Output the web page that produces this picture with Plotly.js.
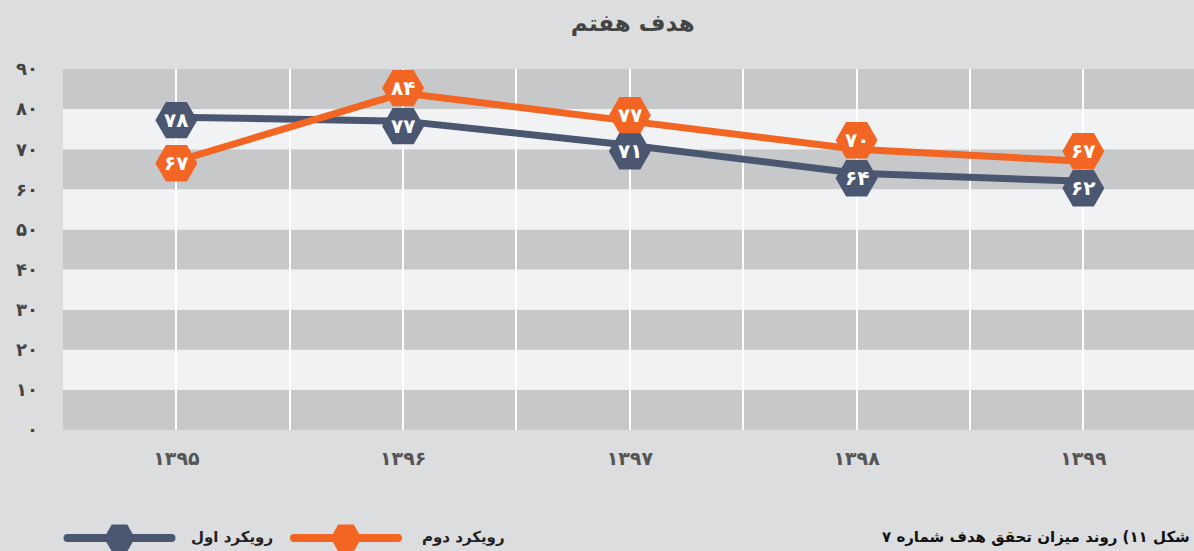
<!DOCTYPE html>
<html>
<head>
<meta charset="utf-8">
<script src="https://cdn.plot.ly/plotly-3.0.1.min.js"></script>
<style>
html,body{margin:0;padding:0;background:#dcdddf;}
#chart{width:1194px;height:551px;}
</style>
</head>
<body>
<div id="chart"></div>
<script>
// ---- data ----
var years = ['۱۳۹۵', '۱۳۹۶', '۱۳۹۷', '۱۳۹۸', '۱۳۹۹'];
var yearIndex = [0, 1, 2, 3, 4];
var approach1Name = 'رویکرد اول';
var approach2Name = 'رویکرد دوم';
var approach1 = [78, 77, 71, 64, 62];
var approach2 = [67, 84, 77, 70, 67];
var approach1Labels = ['۷۸', '۷۷', '۷۱', '۶۴', '۶۲'];
var approach2Labels = ['۶۷', '۸۴', '۷۷', '۷۰', '۶۷'];
var yTickVals = [0, 10, 20, 30, 40, 50, 60, 70, 80, 90];
var yTickText = ['۰', '۱۰', '۲۰', '۳۰', '۴۰', '۵۰', '۶۰', '۷۰', '۸۰', '۹۰'];
var chartTitle = 'هدف هفتم';
var caption = 'شکل ۱۱) روند میزان تحقق هدف شماره ۷';

// ---- styles ----
var FONT = 'DejaVu Sans, sans-serif';
var DARK = '#4b5670';
var ORANGE = '#f26522';
var BAND_DARK = '#c7c8ca';
var BAND_LIGHT = '#f1f2f4';
// label badge displacement in pixels (positive = down), to keep badges apart
var labelShift1 = [3, 5, 6, 5, 7];
var labelShift2 = [2, -5, -6, -9, -10];

function lineTrace(name, y, color) {
  return {
    type: 'scatter', mode: 'lines', name: name,
    x: yearIndex, y: y,
    line: {color: color, width: 7},
    hoverinfo: 'skip', showlegend: false
  };
}

var traces = [
  lineTrace(approach1Name, approach1, DARK),
  lineTrace(approach2Name, approach2, ORANGE)
];

function hexPath(r, dy) {
  var h = r * Math.sqrt(3) / 2, hr = r / 2;
  var pts = [[-r, 0], [-hr, h], [hr, h], [r, 0], [hr, -h], [-hr, -h]];
  return 'M' + pts.map(function (p) { return p[0].toFixed(2) + ',' + (p[1] - dy).toFixed(2); }).join(' L') + ' Z';
}

var shapes = [];
// background bands (alternating)
for (var i = 0; i < yTickVals.length - 1; i++) {
  shapes.push({
    type: 'rect', layer: 'below', xref: 'paper', yref: 'y',
    x0: 0, x1: 1, y0: yTickVals[i], y1: yTickVals[i + 1],
    fillcolor: (i % 2 === 0) ? BAND_DARK : BAND_LIGHT, line: {width: 0}
  });
}

var annotations = [];
// value badges anchored at data points
function addBadges(vals, labels, shifts, color) {
  for (var k = 0; k < vals.length; k++) {
    shapes.push({
      type: 'path', layer: 'above', xref: 'x', yref: 'y',
      xsizemode: 'pixel', ysizemode: 'pixel',
      xanchor: yearIndex[k], yanchor: vals[k],
      path: hexPath(21, shifts[k]),
      fillcolor: color, line: {width: 0}
    });
    annotations.push({
      xref: 'x', yref: 'y', x: yearIndex[k], y: vals[k], yshift: -shifts[k],
      text: labels[k], showarrow: false, xanchor: 'center', yanchor: 'middle',
      font: {family: FONT, size: 20, color: '#ffffff', weight: 'bold'}
    });
  }
}
addBadges(approach1, approach1Labels, labelShift1, DARK);
addBadges(approach2, approach2Labels, labelShift2, ORANGE);

// legend decoration (pixel-sized shapes anchored in paper coords)
var plotLeft = 63, plotW = 1131, plotBottom = 430, plotH = 361;
function px2x(px) { return (px - plotLeft) / plotW; }
function py2y(py) { return (plotBottom - py) / plotH; }
function legendItem(cx, cy, color) {
  var half = 56, t = 4;
  shapes.push({
    type: 'path', xref: 'paper', yref: 'paper',
    xsizemode: 'pixel', ysizemode: 'pixel',
    xanchor: px2x(cx), yanchor: py2y(cy),
    path: 'M' + (-half + t) + ',' + (-t) + ' H' + (half - t) +
          ' Q' + half + ',' + (-t) + ' ' + half + ',0 Q' + half + ',' + t + ' ' + (half - t) + ',' + t +
          ' H' + (-half + t) + ' Q' + (-half) + ',' + t + ' ' + (-half) + ',0 Q' + (-half) + ',' + (-t) + ' ' + (-half + t) + ',' + (-t) + ' Z',
    fillcolor: color, line: {width: 0}
  });
  shapes.push({
    type: 'path', xref: 'paper', yref: 'paper',
    xsizemode: 'pixel', ysizemode: 'pixel',
    xanchor: px2x(cx), yanchor: py2y(cy),
    path: hexPath(15.5, 0),
    fillcolor: color, line: {width: 0}
  });
}
legendItem(119.5, 538, DARK);
legendItem(346, 538, ORANGE);

annotations.push(
  {xref: 'paper', yref: 'paper', x: px2x(232), y: py2y(537), text: approach1Name,
   showarrow: false, xanchor: 'center', yanchor: 'middle',
   font: {family: FONT, size: 15, color: '#222222', weight: 'bold'}},
  {xref: 'paper', yref: 'paper', x: px2x(463), y: py2y(537), text: approach2Name,
   showarrow: false, xanchor: 'center', yanchor: 'middle',
   font: {family: FONT, size: 15, color: '#222222', weight: 'bold'}},
  {xref: 'paper', yref: 'paper', x: px2x(1192), y: py2y(537), text: caption,
   showarrow: false, xanchor: 'right', yanchor: 'middle',
   font: {family: FONT, size: 15, color: '#111111', weight: 'bold'}}
);

var layout = {
  width: 1194, height: 551,
  paper_bgcolor: '#dcdddf',
  plot_bgcolor: BAND_LIGHT,
  margin: {l: 63, r: 0, t: 69, b: 121, pad: 0},
  showlegend: false,
  title: {text: chartTitle, x: 0.53, xanchor: 'center', y: 1 - 23 / 551, yanchor: 'middle', yref: 'container',
          font: {family: FONT, size: 23, color: '#444444', weight: 'bold'}},
  xaxis: {
    range: [-0.5, 4.488], tickvals: yearIndex, ticktext: years,
    showgrid: true, gridcolor: '#ffffff', gridwidth: 2,
    minor: {tick0: 0.5, dtick: 1, showgrid: true, gridcolor: '#ffffff', gridwidth: 2},
    zeroline: false, showline: false, ticks: '',
    ticklabelstandoff: 15,
    tickfont: {family: FONT, size: 19, color: '#555555', weight: 'bold'},
    fixedrange: true
  },
  yaxis: {
    range: [0, 90], tickvals: yTickVals, ticktext: yTickText,
    showgrid: false, zeroline: false, showline: false, ticks: '',
    ticklabelstandoff: 24,
    tickfont: {family: FONT, size: 18, color: '#444444', weight: 'bold'},
    fixedrange: true
  },
  shapes: shapes,
  annotations: annotations
};

Plotly.newPlot('chart', traces, layout, {displayModeBar: false, staticPlot: true});
</script>
</body>
</html>
